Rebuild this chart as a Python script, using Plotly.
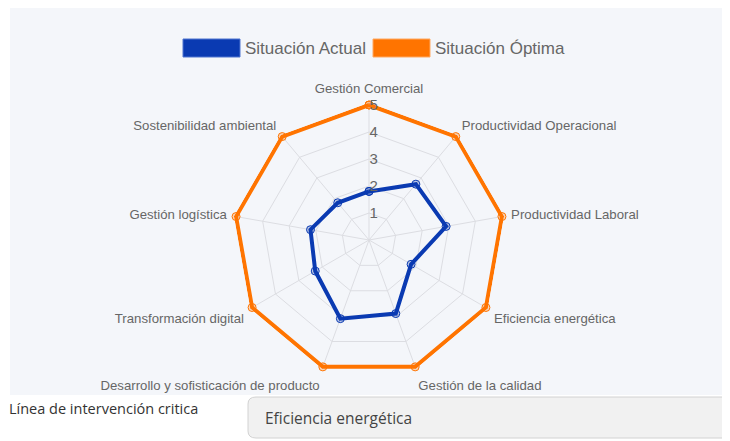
import plotly.graph_objects as go

categories = ["Gestión Comercial", "Productividad Operacional", "Productividad Laboral",
              "Eficiencia energética", "Gestión de la calidad",
              "Desarrollo y sofisticación de producto", "Transformación digital",
              "Gestión logística", "Sostenibilidad ambiental"]
actual = [1.8, 2.7, 2.9, 1.8, 2.9, 3.1, 2.3, 2.2, 1.8]
optima = [5, 5, 5, 5, 5, 5, 5, 5, 5]
radial_ticks = [1, 2, 3, 4, 5]
series_names = ["Situación Actual", "Situación Óptima"]
series_colors = ["#0a3ab2", "#ff7400"]
critical_label = "Línea de intervención critica"
critical_value = "Eficiencia energética"

BG = "#f4f6fa"
W, H = 722, 433          # page body has an 8px margin
OFF = 8


def px(x):
    return (x - OFF) / W


def py(y):
    return 1 - (y - OFF) / H


fig = go.Figure()
for name, vals, col, fill in [(series_names[0], actual, series_colors[0], "rgba(10,58,178,0.25)"),
                              (series_names[1], optima, series_colors[1], "rgba(255,116,0,0.25)")]:
    fig.add_trace(go.Scatterpolar(
        r=vals + vals[:1], theta=categories + categories[:1], name=name,
        mode="lines+markers",
        line=dict(color=col, width=4),
        marker=dict(symbol="circle", size=8, color=fill, line=dict(color=col, width=1)),
        showlegend=False,
    ))

RMAX = 5.08
cx, cy = 369, 240
R = 135 * RMAX / 5
box = f"M {px(256)},{py(397)} L {px(722)},{py(397)} Q {px(729)},{py(397)} {px(729)},{py(404)} " \
      f"L {px(729)},{py(431)} Q {px(729)},{py(438)} {px(722)},{py(438)} " \
      f"L {px(256)},{py(438)} Q {px(248)},{py(438)} {px(248)},{py(431)} " \
      f"L {px(248)},{py(404)} Q {px(248)},{py(397)} {px(256)},{py(397)} Z"

fig.update_layout(
    width=W, height=H,
    margin=dict(l=0, r=0, t=0, b=0),
    paper_bgcolor="white", plot_bgcolor=BG,
    font=dict(family="Liberation Sans, Arial, sans-serif", color="#666666", size=13.2),
    polar=dict(
        bgcolor=BG,
        domain=dict(x=[px(cx - R), px(cx + R)], y=[py(cy + R), py(cy - R)]),
        gridshape="linear",
        radialaxis=dict(range=[0, RMAX], tickvals=radial_ticks, angle=90, tickangle=90,
                        showline=False, gridcolor="#dcdde2", gridwidth=1,
                        tickfont=dict(size=15, color="#666666"), ticks=""),
        angularaxis=dict(rotation=90, direction="clockwise", gridcolor="#dcdde2",
                         linecolor="#dcdde2", showline=False,
                         ticks="outside", ticklen=4, tickcolor="rgba(0,0,0,0)",
                         tickfont=dict(size=13.2, color="#666666")),
    ),
    shapes=[
        dict(type="rect", xref="paper", yref="paper", layer="below",
             x0=px(10), x1=1, y0=py(395), y1=1,
             fillcolor=BG, line=dict(width=0)),
        dict(type="rect", xref="paper", yref="paper",
             x0=px(183), x1=px(240), y0=py(57), y1=py(39),
             fillcolor=series_colors[0], line=dict(color="#4f74d0", width=1)),
        dict(type="rect", xref="paper", yref="paper",
             x0=px(373), x1=px(430), y0=py(57), y1=py(39),
             fillcolor=series_colors[1], line=dict(color="#ffa860", width=1)),
        dict(type="path", xref="paper", yref="paper", path=box,
             fillcolor="#f1f1f1", line=dict(color="#d2d2d2", width=1)),
    ],
    annotations=[
        dict(text=series_names[0], xref="paper", yref="paper", x=px(243), y=py(48),
             xanchor="left", yanchor="middle", showarrow=False,
             font=dict(size=17, color="#666666", family="Liberation Sans, Arial")),
        dict(text=series_names[1], xref="paper", yref="paper", x=px(433), y=py(48),
             xanchor="left", yanchor="middle", showarrow=False,
             font=dict(size=17, color="#666666", family="Liberation Sans, Arial")),
        dict(text=critical_label, xref="paper", yref="paper", x=px(7), y=py(408),
             xanchor="left", yanchor="middle", showarrow=False,
             font=dict(size=14.5, color="#333333", family="Open Sans, sans-serif")),
        dict(text=critical_value, xref="paper", yref="paper", x=px(263), y=py(418),
             xanchor="left", yanchor="middle", showarrow=False,
             font=dict(size=15.5, color="#444444", family="Open Sans, sans-serif")),
    ],
)

fig.write_html("out.html")
